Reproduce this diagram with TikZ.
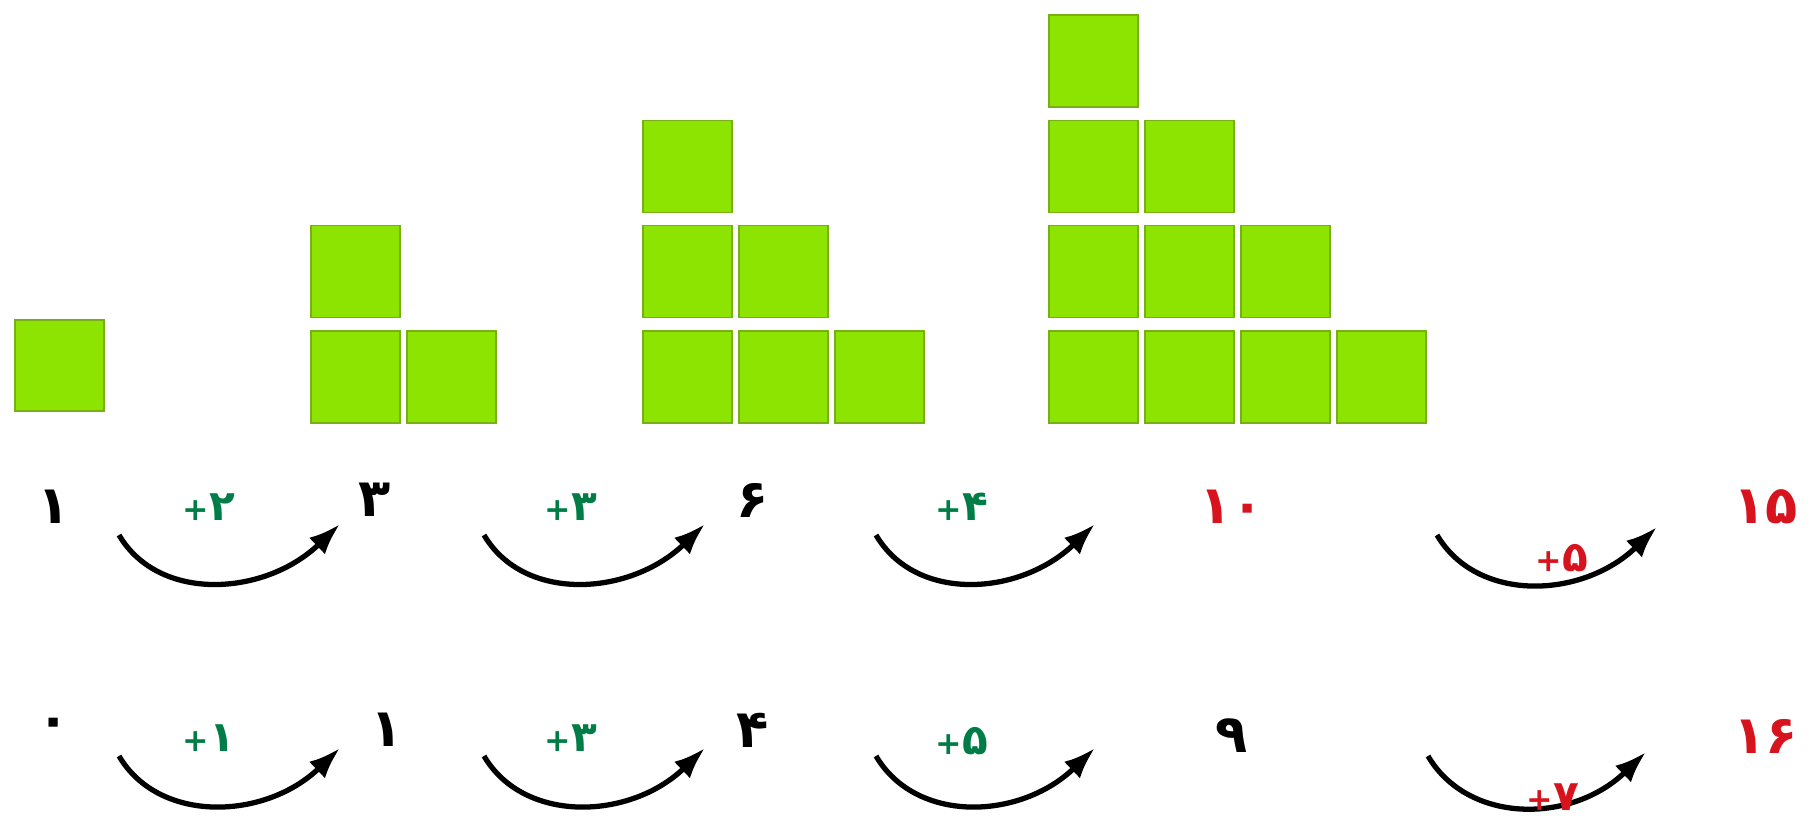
\documentclass[tikz,border=0pt]{standalone}
\usepackage{fontspec}
\newfontfamily\fafont{DejaVu Sans}
\usetikzlibrary{arrows.meta}
\definecolor{tilegreen}{RGB}{140,228,0}
\definecolor{tileedge}{RGB}{120,175,20}
\definecolor{stepgreen}{RGB}{0,125,70}
\definecolor{answerred}{RGB}{215,20,30}
\newcommand\plussign{{\fontsize{9}{9}\selectfont+}}
\tikzset{
  tile/.style={fill=tilegreen,draw=tileedge,line width=0.4pt},
  num/.style={font=\fafont\bfseries\fontsize{15}{15}\selectfont},
  jump/.style={line width=1.5pt,-{Latex[length=9pt,width=6.5pt]}},
  addlabel/.style={font=\fafont\bfseries\fontsize{12}{12}\selectfont,text=stepgreen}
}
\begin{document}
\begin{tikzpicture}[x=0.01cm,y=-0.01cm]
\useasboundingbox (0,0) rectangle (1817,820);

   \draw[tile] (15,411) rectangle +(89,-91);
   \foreach \gx/\n in {311/2,643/3,1049/4}
     \foreach \c in {1,...,\n} {
       \pgfmathtruncatemacro\h{\n-\c+1}
       \foreach \r in {1,...,\h}
         \draw[tile] ({\gx+(\c-1)*96},{423-(\r-1)*105.3}) rectangle +(89,-92);
     }

   \node[num] at (54,507)  (t1) {۱};
   \node[num] at (375,500) (t2) {۳};
   \node[num] at (753,500) (t3) {۶};
   \node[num,text=answerred] at (1232,507) (t4) {۱۰};
   \node[num,text=answerred] at (1766,507) (t5) {۱۵};

   \node[num] at (54,728)  (s1) {۰};
   \node[num] at (387,730) (s2) {۱};
   \node[num] at (753,730) (s3) {۴};
   \node[num] at (1232,736) (s4) {۹};
   \node[num,text=answerred] at (1766,736) (s5) {۱۶};

   \coordinate (ta1) at (119,535);  \coordinate (tb1) at (340,524);
   \coordinate (ta2) at (484,535);  \coordinate (tb2) at (705,524);
   \coordinate (ta3) at (876,535);  \coordinate (tb3) at (1095,524);
   \coordinate (ta4) at (1437,535); \coordinate (tb4) at (1657,527);

   \coordinate (sa1) at (119,756);  \coordinate (sb1) at (340,748);
   \coordinate (sa2) at (484,756);  \coordinate (sb2) at (705,748);
   \coordinate (sa3) at (876,756);  \coordinate (sb3) at (1095,748);
   \coordinate (sa4) at (1428,756); \coordinate (sb4) at (1646,752);

   \foreach \i in {1,...,4} {
     \draw[jump] (ta\i) .. controls +(40,68) and +(-75,72) .. (tb\i);
     \draw[jump] (sa\i) .. controls +(40,68) and +(-75,72) .. (sb\i);
   }

   \node[addlabel] at (209,507) (tp1) {\plussign۲};
   \node[addlabel] at (571,507) (tp2) {\plussign۳};
   \node[addlabel] at (962,507) (tp3) {\plussign۴};
   \node[addlabel,text=answerred] at (1562,558) (tp4) {\plussign۵};

   \node[addlabel] at (209,738) (sp1) {\plussign۱};
   \node[addlabel] at (571,738) (sp2) {\plussign۳};
   \node[addlabel] at (962,741) (sp3) {\plussign۵};
   \node[addlabel,text=answerred] at (1553,797) (sp4) {\plussign۷};

\end{tikzpicture}
\end{document}
